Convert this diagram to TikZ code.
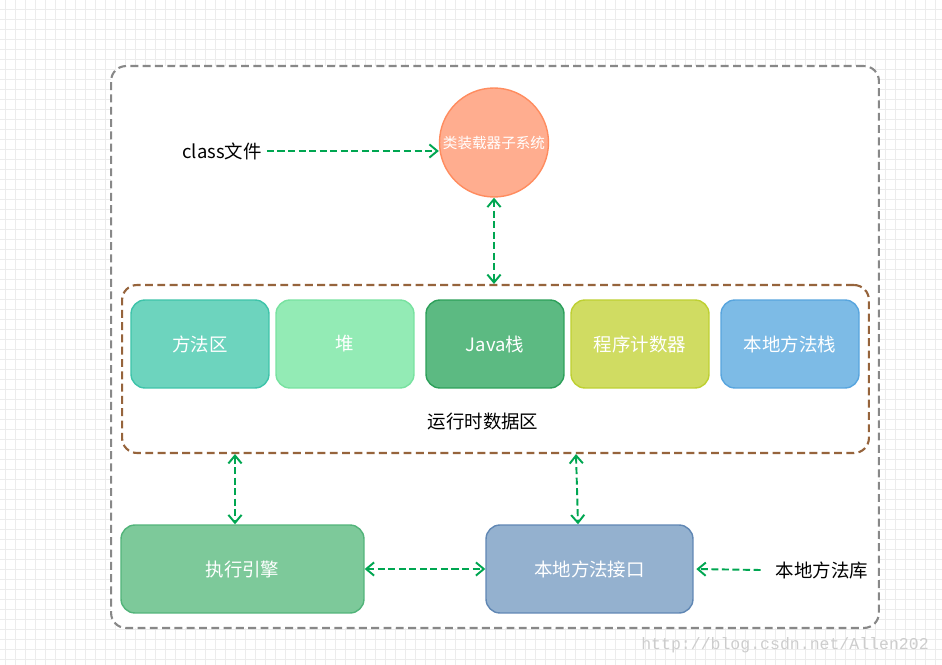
\documentclass[tikz,border=0pt]{standalone}
\usepackage{fontspec}
\setmainfont{Noto Sans CJK SC}
\newfontfamily\markfont{Liberation Mono}
\usetikzlibrary{arrows.meta,calc}

\definecolor{flowgreen}{RGB}{0,166,81}
\definecolor{framegray}{RGB}{136,136,136}
\definecolor{areabrown}{RGB}{150,100,60}
\definecolor{gridgray}{RGB}{236,236,236}
\definecolor{markgray}{RGB}{205,205,205}
\definecolor{loaderfill}{RGB}{255,173,143}
\definecolor{loaderline}{RGB}{255,140,95}
\definecolor{methodfill}{RGB}{109,212,190}
\definecolor{methodline}{RGB}{62,196,170}
\definecolor{heapfill}{RGB}{147,235,181}
\definecolor{heapline}{RGB}{120,226,160}
\definecolor{stackfill}{RGB}{92,186,130}
\definecolor{stackline}{RGB}{45,160,90}
\definecolor{pcfill}{RGB}{208,220,98}
\definecolor{pcline}{RGB}{190,208,50}
\definecolor{nstackfill}{RGB}{125,187,230}
\definecolor{nstackline}{RGB}{88,165,222}
\definecolor{execfill}{RGB}{125,201,154}
\definecolor{execline}{RGB}{82,180,122}
\definecolor{ifacefill}{RGB}{148,177,207}
\definecolor{ifaceline}{RGB}{96,135,180}

\tikzset{
	flow/.style={draw=flowgreen,line width=1.1pt,dash pattern=on 4pt off 2pt},
	membox/.style={draw,line width=0.8pt,rounded corners=0.28cm,minimum width=2.76cm,minimum height=1.76cm,text=white,font=\fontsize{10.5}{12}\selectfont},
	plainlabel/.style={text=black,font=\fontsize{10.5}{12}\selectfont,inner sep=0pt},
}

\begin{document}
\begin{tikzpicture}[x=0.02cm,y=-0.02cm,>={Straight Barb[length=4.5pt,width=7.5pt]}]
	\useasboundingbox (0,0) rectangle (942,665);
	\foreach \x in {5,15,...,935} {
		\draw[gridgray,line width=0.4pt] (\x,0) -- (\x,665);
	}
	\foreach \y in {9,19,...,659} {
		\draw[gridgray,line width=0.4pt] (0,\y) -- (942,\y);
	}
	\node[draw=framegray,fill=white,line width=1.2pt,dash pattern=on 4.5pt off 2.5pt,rounded corners=0.3cm,minimum width=15.36cm,minimum height=11.24cm] (jvm) at (495,347) {};
	\node[draw=areabrown,line width=1.2pt,dash pattern=on 4.5pt off 2.5pt,rounded corners=0.3cm,minimum width=14.94cm,minimum height=3.36cm] (rtda) at (495.5,369) {};
	\node[plainlabel] (rtdalabel) at (483,422) {运行时数据区};
	\node[circle,draw=loaderline,fill=loaderfill,line width=0.8pt,minimum size=2.18cm,inner sep=0pt,text=white,font=\fontsize{8.3}{10}\selectfont] (loader) at (494,142.5) {类装载器子系统};
	\node[plainlabel] (cls) at (222,151) {class文件};
	\foreach \n/\x/\t in {method/200/方法区,heap/345/堆,stack/495/Java栈,pc/640/程序计数器,nstack/790/本地方法栈} {
		\node[membox,fill=\n fill,draw=\n line] (\n) at (\x,344) {\t};
	}
	\node[membox,fill=execfill,draw=execline,minimum width=4.86cm] (exec) at (242.5,569) {执行引擎};
	\node[membox,fill=ifacefill,draw=ifaceline,minimum width=4.14cm] (iface) at (589.5,569) {本地方法接口};
	\node[plainlabel] (lib) at (822,570) {本地方法库};
	\node[text=markgray,font=\markfont\fontsize{9.4}{10}\selectfont,inner sep=0pt] (mark) at (785,645) {http://blog.csdn.net/Allen202};
	\draw[flow,->] ($(cls.east)+(5,0)$) -- (cls.east -| loader.west);
	\draw[flow,<->] (loader.south) -- (rtda.north -| loader.south);
	\draw[flow,<->] ($(rtda.south -| exec.north)+(-7.5,0)$) -- ($(exec.north)+(-7.5,0)$);
	\draw[flow,<->] ($(rtda.south -| iface.north)+(-13.5,0)$) -- ($(iface.north)+(-11.5,0)$);
	\draw[flow,<->] (exec.east) -- (iface.west);
	\draw[flow,->,shorten >=1.5pt] ($(lib.west)+(-15,0)$) -- (iface.east);
\end{tikzpicture}
\end{document}
